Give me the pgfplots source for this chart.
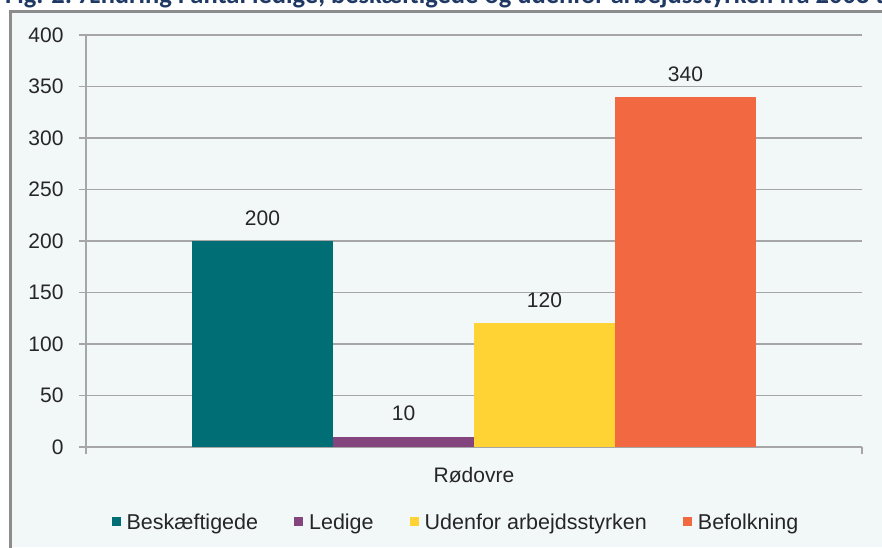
\documentclass[border=0pt]{standalone}
\usepackage{pgfplots}
\pgfplotsset{compat=1.18}
\usepackage{fontspec}
\setmainfont{Liberation Sans}
\newfontfamily\titlefont{Carlito}
\definecolor{bgc}{HTML}{F2F7F7}
\definecolor{bordc}{HTML}{8C8C8C}
\definecolor{gridc}{HTML}{A6A6A6}
\definecolor{titc}{HTML}{1F3864}
\definecolor{cBes}{HTML}{006E75}
\definecolor{cLed}{HTML}{84457F}
\definecolor{cUde}{HTML}{FFD333}
\definecolor{cBef}{HTML}{F26841}
\definecolor{txt}{HTML}{262626}
\pgfplotsset{legsq/.style={legend image code/.code={\fill[##1] (0pt,-4.5pt) rectangle (9pt,4.5pt);}}}
\begin{document}
\begin{tikzpicture}[x=1pt,y=1pt]
\useasboundingbox (0,0) rectangle (882,547);
\clip (0,0) rectangle (882,547);
\fill[bgc] (10,0) rectangle (882,535);
\draw[bordc, line width=3pt] (10,-5) -- (10,535) -- (890,535);
\node[anchor=base west, inner sep=0pt, font=\titlefont\bfseries\fontsize{26.5}{31}\selectfont, text=titc] at (5pt,543pt) {Fig. 2: Ændring i antal ledige, beskæftigede og udenfor arbejdsstyrken fra 2008 til 2013};
\begin{axis}[
  at={(86pt,100pt)}, anchor=south west,
  width=776pt, height=412pt, scale only axis,
  ybar=0pt, bar width=141pt,
  xmin=-1, xmax=1, ymin=0, ymax=400,
  ytick={0,50,...,400},
  xtick={-1,1}, xticklabels={,},
  extra x ticks={0}, extra x tick labels={Rødovre},
  extra x tick style={major tick length=0pt, tick label style={yshift=-17pt}},
  axis x line*=bottom, axis y line*=left,
  tick align=outside, major tick length=7pt,
  ymajorgrids, grid style={gridc, line width=1.3pt},
  axis line style={gridc, line width=1.3pt},
  tick style={gridc, line width=1.3pt},
  /pgf/number format/assume math mode=true,
  ticklabel style={font=\fontsize{21}{25}\selectfont, text=txt},
  yticklabel style={xshift=-12pt},
  nodes near coords,
  every node near coord/.append style={font=\fontsize{21}{25}\selectfont, text=txt, yshift=12pt},
  legend columns=4,
  legend style={at={(axis description cs:0.4755,-0.182)}, anchor=center, draw=none, fill=none,
    font=\fontsize{21.5}{25}\selectfont, text=txt, nodes={inner sep=0pt},
    /tikz/every odd column/.append style={column sep=6pt},
    /tikz/every even column/.append style={column sep=36pt}},
]
\addplot[fill=cBes, draw=none, legsq] coordinates {(0,200)};
\addplot[fill=cLed, draw=none, legsq] coordinates {(0,10)};
\addplot[fill=cUde, draw=none, legsq] coordinates {(0,120)};
\addplot[fill=cBef, draw=none, legsq] coordinates {(0,340)};
\legend{Beskæftigede, Ledige, Udenfor arbejdsstyrken, Befolkning}
\end{axis}
\end{tikzpicture}
\end{document}
